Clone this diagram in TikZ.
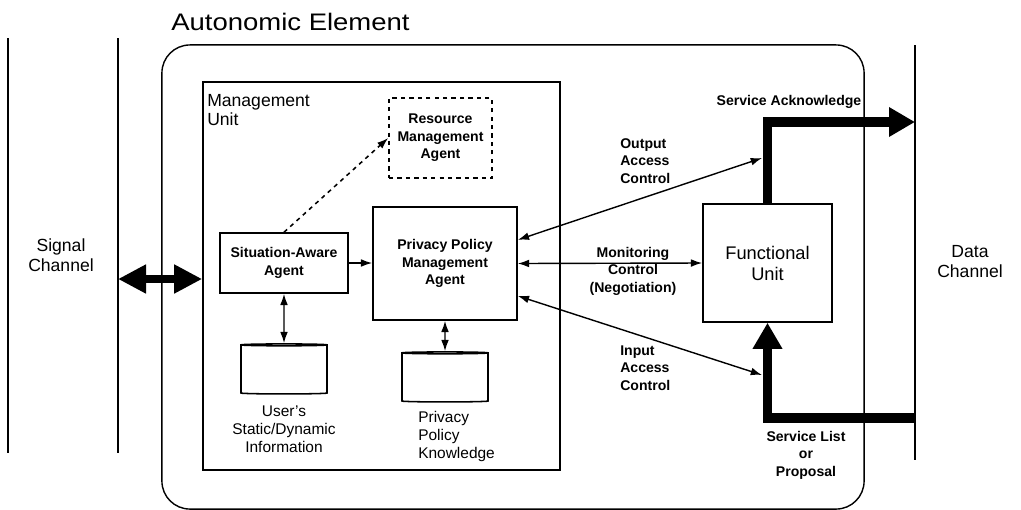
\documentclass[tikz,border=0pt]{standalone}
\usepackage{fontspec}
\setmainfont{Liberation Sans}
\usetikzlibrary{arrows.meta,shapes.geometric}

\tikzset{
  agent/.style={draw, line width=1.1pt, align=center, inner sep=2pt,
    font=\fontsize{10}{12.4}\selectfont\bfseries},
  lbl/.style={align=center, inner sep=0pt, font=\fontsize{10}{12.4}\selectfont\bfseries},
  txt/.style={align=center, inner sep=0pt, font=\fontsize{11}{12.8}\selectfont},
  chantxt/.style={align=center, inner sep=0pt, font=\fontsize{12.5}{14.2}\selectfont},
  db/.style={draw, line width=1.1pt, cylinder, shape border rotate=90, aspect=0.2,
    minimum width=2.15cm, minimum height=1.25cm},
  link/.style={line width=1pt, {Latex[length=8pt,width=5.5pt]}-{Latex[length=8pt,width=5.5pt]}},
  feed/.style={line width=1pt, -{Latex[length=8pt,width=5.5pt]}},
  flow/.style={line width=7pt, -{Triangle[length=0.65cm,width=0.7cm]}},
  chan/.style={line width=0.9pt}
}

\begin{document}
\begin{tikzpicture}[x=0.025cm, y=-0.025cm]
  \useasboundingbox (0,0) rectangle (1021,509);

  % channels
  \coordinate (sigTop) at (8,38);   \coordinate (sigBot) at (8,453);
  \coordinate (sigTop2) at (118,38); \coordinate (sigBot2) at (118,453);
  \coordinate (datTop) at (915,45); \coordinate (datBot) at (915,460);
  \draw[chan] (sigTop) -- (sigBot);
  \draw[chan] (sigTop2) -- (sigBot2);
  \draw[chan] (datTop) -- (datBot);
  \node[chantxt] (sigLbl) at (61,255) {Signal\\Channel};
  \node[chantxt] (datLbl) at (970,262) {Data\\Channel};

  % autonomic element and management unit
  \node[anchor=west, inner sep=0pt, font=\fontsize{17}{20}\selectfont\addfontfeatures{FakeStretch=1.15}] (title) at (171,22) {Autonomic Element};
  \node[draw, line width=1pt, rounded corners=0.7cm, minimum width=17.55cm, minimum height=11.6cm] (ae) at (513,277) {};
  \node[draw, line width=1.1pt, minimum width=8.925cm, minimum height=9.7cm] (mgmt) at (381.5,276) {};
  \node[anchor=north west, align=left, inner sep=0pt, font=\fontsize{12.5}{13.5}\selectfont] (mgmtLbl) at (207,94) {Management\\Unit};

  % agents
  \node[agent, dashed, minimum width=2.575cm, minimum height=2cm] (rma) at (440.5,138) {Resource\\Management\\Agent};
  \node[agent, minimum width=3.2cm, minimum height=1.5cm] (saa) at (284,263) {Situation-Aware\\Agent};
  \node[agent, minimum width=3.6cm, minimum height=2.825cm] (ppma) at (445,263.5) {Privacy Policy\\Management\\Agent};
  \node[draw, line width=1.1pt, align=center, minimum width=3.225cm, minimum height=2.95cm,
    font=\fontsize{13}{14.9}\selectfont] (fu) at (767.5,263) {Functional\\Unit};

  % knowledge stores
  \node[db] (db1) at (284,370) {};
  \node[db] (db2) at (445,378) {};
  \node[txt] (db1Lbl) at (284,429) {User's\\Static/Dynamic\\Information};
  \node[txt, align=left, anchor=west] (db2Lbl) at (418,436) {Privacy\\Policy\\Knowledge};

  % links inside the management unit
  \draw[line width=1.1pt, dashed, -{Latex[length=8pt,width=5.5pt]}] (saa.north) -- (rma.west);
  \draw[feed] (saa.east) -- (saa.east -| ppma.west);
  \draw[link] (saa.south) -- (db1.north);
  \draw[link] (ppma.south) -- (db2.north);
  \draw[line width=5.5pt, {Triangle[length=0.7cm,width=0.68cm]}-{Triangle[length=0.7cm,width=0.68cm]}]
    (118,279) -- (mgmt.west |- 0,279);

  % service flows
  \coordinate (dcTop) at (915,122);
  \coordinate (dcBot) at (915,418);
  \coordinate (ackIn) at (762,158);
  \coordinate (reqIn) at (762,375);
  \draw[flow] (fu.north) |- (dcTop);
  \draw[flow] (dcBot) -| (fu.south);
  \draw[link] (ppma.18) -- (ackIn);
  \draw[link] (ppma.east) -- (fu.west);
  \draw[link] (ppma.-24) -- (reqIn);

  % labels on the links
  \node[lbl, align=left, anchor=west] (outLbl) at (620,161) {Output\\Access\\Control};
  \node[lbl] (monLbl) at (633,271) {Monitoring\\Control\\(Negotiation)};
  \node[lbl, align=left, anchor=west] (inLbl) at (620,368) {Input\\Access\\Control};
  \node[lbl] (ackLbl) at (789,102) {Service Acknowledge};
  \node[lbl] (listLbl) at (806,455) {Service List\\or\\Proposal};
\end{tikzpicture}
\end{document}
